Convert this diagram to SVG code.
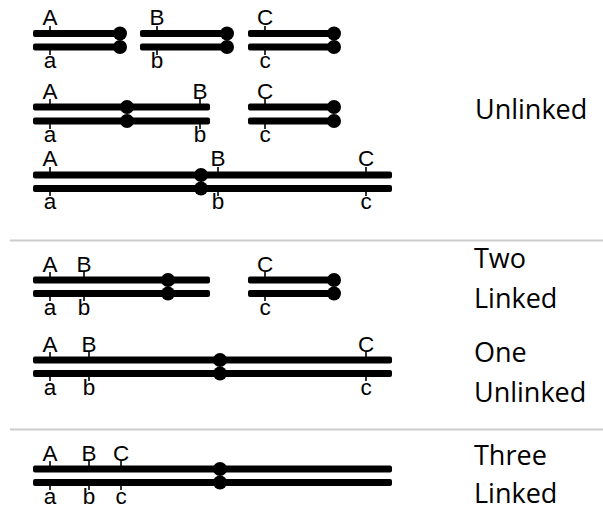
<svg xmlns="http://www.w3.org/2000/svg" width="603" height="510" viewBox="0 0 603 510">
  <style>
    .bar { fill: #000; }
    .cen { fill: #000; }
    .tick { stroke: #000; stroke-width: 1.6; }
    .gene { font-family: "Liberation Sans", Arial, sans-serif; font-size: 22.5px; fill: #000; text-anchor: middle; }
    .cat { font-family: "Open Sans", "Noto Sans", sans-serif; font-size: 27px; fill: #000; }
    .sep { stroke: #cccccc; stroke-width: 2; }
  </style>

  <rect width="603" height="510" fill="#fff"/>

  <!-- section dividers -->
  <g id="dividers">
    <line class="sep" x1="10" y1="240.5" x2="603" y2="240.5"/>
    <line class="sep" x1="10" y1="429.5" x2="603" y2="429.5"/>
  </g>

  <!-- Row 1: three separate chromosome pairs, telocentric -->
  <g id="row1">
    <g id="r1-chrA">
      <rect class="bar" x="33" y="30" width="88" height="7" rx="2"/>
      <rect class="bar" x="33" y="43.5" width="88" height="7" rx="2"/>
      <circle class="cen" cx="120" cy="33.5" r="7"/>
      <circle class="cen" cx="120" cy="47" r="7"/>
      <line class="tick" x1="50" y1="26" x2="50" y2="33"/>
      <line class="tick" x1="50" y1="47" x2="50" y2="55"/>
      <text class="gene" x="50" y="25">A</text>
      <text class="gene" x="50" y="68">a</text>
    </g>
    <g id="r1-chrB">
      <rect class="bar" x="140" y="30" width="88" height="7" rx="2"/>
      <rect class="bar" x="140" y="43.5" width="88" height="7" rx="2"/>
      <circle class="cen" cx="227" cy="33.5" r="7"/>
      <circle class="cen" cx="227" cy="47" r="7"/>
      <line class="tick" x1="157" y1="26" x2="157" y2="33"/>
      <line class="tick" x1="157" y1="47" x2="157" y2="55"/>
      <text class="gene" x="157" y="25">B</text>
      <text class="gene" x="157" y="68">b</text>
    </g>
    <g id="r1-chrC">
      <rect class="bar" x="248" y="30" width="86" height="7" rx="2"/>
      <rect class="bar" x="248" y="43.5" width="86" height="7" rx="2"/>
      <circle class="cen" cx="334" cy="33.5" r="7"/>
      <circle class="cen" cx="334" cy="47" r="7"/>
      <line class="tick" x1="265" y1="26" x2="265" y2="33"/>
      <line class="tick" x1="265" y1="47" x2="265" y2="55"/>
      <text class="gene" x="265" y="25">C</text>
      <text class="gene" x="265" y="68">c</text>
    </g>
  </g>

  <!-- Row 2: A and B on one chromosome far apart, C separate -->
  <g id="row2">
    <g id="r2-chrAB">
      <rect class="bar" x="33" y="103.5" width="177" height="7" rx="2"/>
      <rect class="bar" x="33" y="117.5" width="177" height="7" rx="2"/>
      <circle class="cen" cx="127" cy="107" r="7"/>
      <circle class="cen" cx="127" cy="121" r="7"/>
      <line class="tick" x1="50" y1="99" x2="50" y2="107"/>
      <line class="tick" x1="50" y1="121" x2="50" y2="129"/>
      <line class="tick" x1="200" y1="99" x2="200" y2="107"/>
      <line class="tick" x1="200" y1="121" x2="200" y2="129"/>
      <text class="gene" x="50" y="99">A</text>
      <text class="gene" x="50" y="142">a</text>
      <text class="gene" x="200" y="99">B</text>
      <text class="gene" x="200" y="142">b</text>
    </g>
    <g id="r2-chrC">
      <rect class="bar" x="248" y="103.5" width="86" height="7" rx="2"/>
      <rect class="bar" x="248" y="117.5" width="86" height="7" rx="2"/>
      <circle class="cen" cx="334" cy="107" r="7"/>
      <circle class="cen" cx="334" cy="121" r="7"/>
      <line class="tick" x1="265" y1="99" x2="265" y2="107"/>
      <line class="tick" x1="265" y1="121" x2="265" y2="129"/>
      <text class="gene" x="265" y="99">C</text>
      <text class="gene" x="265" y="142">c</text>
    </g>
  </g>

  <!-- Row 3: all three on one long chromosome, far apart -->
  <g id="row3">
    <g id="r3-chrABC">
      <rect class="bar" x="33" y="171.5" width="359" height="7" rx="2"/>
      <rect class="bar" x="33" y="185" width="359" height="7" rx="2"/>
      <circle class="cen" cx="201" cy="175" r="7"/>
      <circle class="cen" cx="201" cy="188.5" r="7"/>
      <line class="tick" x1="50" y1="167" x2="50" y2="175"/>
      <line class="tick" x1="50" y1="188.5" x2="50" y2="196"/>
      <line class="tick" x1="218" y1="167" x2="218" y2="175"/>
      <line class="tick" x1="218" y1="188.5" x2="218" y2="196"/>
      <line class="tick" x1="366" y1="167" x2="366" y2="175"/>
      <line class="tick" x1="366" y1="188.5" x2="366" y2="196"/>
      <text class="gene" x="50" y="166">A</text>
      <text class="gene" x="50" y="209">a</text>
      <text class="gene" x="218" y="166">B</text>
      <text class="gene" x="218" y="209">b</text>
      <text class="gene" x="366" y="166">C</text>
      <text class="gene" x="366" y="209">c</text>
    </g>
  </g>

  <!-- Row 4: A and B close together, C separate -->
  <g id="row4">
    <g id="r4-chrAB">
      <rect class="bar" x="33" y="276.5" width="177" height="7" rx="2"/>
      <rect class="bar" x="33" y="290" width="177" height="7" rx="2"/>
      <circle class="cen" cx="168" cy="280" r="7"/>
      <circle class="cen" cx="168" cy="293.5" r="7"/>
      <line class="tick" x1="50" y1="272" x2="50" y2="280"/>
      <line class="tick" x1="50" y1="293.5" x2="50" y2="301"/>
      <line class="tick" x1="84" y1="272" x2="84" y2="280"/>
      <line class="tick" x1="84" y1="293.5" x2="84" y2="301"/>
      <text class="gene" x="50" y="271.5">A</text>
      <text class="gene" x="50" y="314.5">a</text>
      <text class="gene" x="84" y="271.5">B</text>
      <text class="gene" x="84" y="314.5">b</text>
    </g>
    <g id="r4-chrC">
      <rect class="bar" x="248" y="276.5" width="86" height="7" rx="2"/>
      <rect class="bar" x="248" y="290" width="86" height="7" rx="2"/>
      <circle class="cen" cx="334" cy="280" r="7"/>
      <circle class="cen" cx="334" cy="293.5" r="7"/>
      <line class="tick" x1="265" y1="272" x2="265" y2="280"/>
      <line class="tick" x1="265" y1="293.5" x2="265" y2="301"/>
      <text class="gene" x="265" y="271.5">C</text>
      <text class="gene" x="265" y="314.5">c</text>
    </g>
  </g>

  <!-- Row 5: A and B close, C far on the same chromosome -->
  <g id="row5">
    <g id="r5-chrABC">
      <rect class="bar" x="33" y="356.5" width="359" height="7" rx="2"/>
      <rect class="bar" x="33" y="370" width="359" height="7" rx="2"/>
      <circle class="cen" cx="220" cy="360" r="7"/>
      <circle class="cen" cx="220" cy="373.5" r="7"/>
      <line class="tick" x1="50" y1="352" x2="50" y2="360"/>
      <line class="tick" x1="50" y1="373.5" x2="50" y2="381"/>
      <line class="tick" x1="89" y1="352" x2="89" y2="360"/>
      <line class="tick" x1="89" y1="373.5" x2="89" y2="381"/>
      <line class="tick" x1="366" y1="352" x2="366" y2="360"/>
      <line class="tick" x1="366" y1="373.5" x2="366" y2="381"/>
      <text class="gene" x="50" y="352">A</text>
      <text class="gene" x="50" y="395">a</text>
      <text class="gene" x="89" y="352">B</text>
      <text class="gene" x="89" y="395">b</text>
      <text class="gene" x="366" y="352">C</text>
      <text class="gene" x="366" y="395">c</text>
    </g>
  </g>

  <!-- Row 6: all three close together -->
  <g id="row6">
    <g id="r6-chrABC">
      <rect class="bar" x="33" y="465.5" width="359" height="7" rx="2"/>
      <rect class="bar" x="33" y="479" width="359" height="7" rx="2"/>
      <circle class="cen" cx="220" cy="469" r="7"/>
      <circle class="cen" cx="220" cy="482.5" r="7"/>
      <line class="tick" x1="50" y1="461" x2="50" y2="469"/>
      <line class="tick" x1="50" y1="482.5" x2="50" y2="490"/>
      <line class="tick" x1="89" y1="461" x2="89" y2="469"/>
      <line class="tick" x1="89" y1="482.5" x2="89" y2="490"/>
      <line class="tick" x1="121" y1="461" x2="121" y2="469"/>
      <line class="tick" x1="121" y1="482.5" x2="121" y2="490"/>
      <text class="gene" x="50" y="461">A</text>
      <text class="gene" x="50" y="504">a</text>
      <text class="gene" x="89" y="461">B</text>
      <text class="gene" x="89" y="504">b</text>
      <text class="gene" x="121" y="461">C</text>
      <text class="gene" x="121" y="504">c</text>
    </g>
  </g>

  <!-- category labels -->
  <g id="labels">
    <text class="cat" x="475" y="119">Unlinked</text>
    <text class="cat" x="474" y="268">Two</text>
    <text class="cat" x="474" y="308">Linked</text>
    <text class="cat" x="474" y="362">One</text>
    <text class="cat" x="474" y="402">Unlinked</text>
    <text class="cat" x="474" y="465">Three</text>
    <text class="cat" x="474" y="503">Linked</text>
  </g>
</svg>
